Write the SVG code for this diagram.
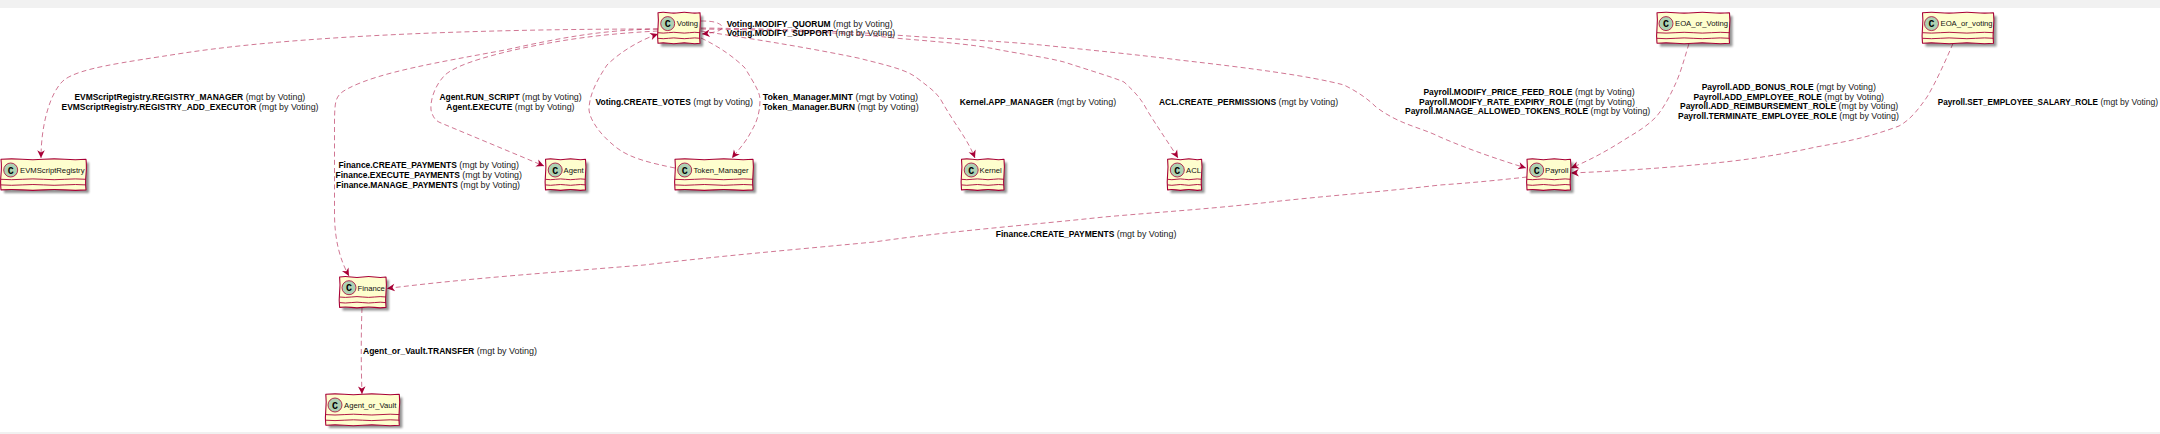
<svg xmlns="http://www.w3.org/2000/svg" width="2160" height="434" viewBox="0 0 2160 434">
<style>
.box{fill:#FEFECE;stroke:#A80036;stroke-width:1.1;stroke-linejoin:round}
.div{fill:none;stroke:#A80036;stroke-width:.9}
.shadow{fill:#000;opacity:.42}
.spot{fill:#ADD1B2;stroke:#A80036;stroke-width:.8}
.glyph{font:bold 10px "Liberation Mono",monospace;fill:#000;text-anchor:middle}
.name{font:7.7px "Liberation Sans",Arial,sans-serif;fill:#111}
.lab{font:8.9px "Liberation Sans",Arial,sans-serif;fill:#222}
.lab tspan{font-weight:bold;font-size:8.45px;fill:#000}
.edge{fill:none;stroke:#A80036;stroke-width:.9;stroke-opacity:.6;stroke-dasharray:5 3.2}
.tip{marker-end:url(#head)}
</style>
<defs>
<marker id="head" markerUnits="userSpaceOnUse" markerWidth="10" markerHeight="10" viewBox="-7 -4 8 8" refX="0" refY="0" orient="auto"><path d="M-6.2,-3 L0,0 L-6.2,3 L-4.4,0 Z" fill="#A80036"/></marker>
<filter id="soft" x="-20%" y="-30%" width="140%" height="160%"><feGaussianBlur stdDeviation="1.2"/></filter>
<g id="spot"><circle class="spot" r="7"/><text class="glyph" y="3.5">C</text></g>
</defs>
<rect x="0" y="0" width="2160" height="8" fill="#f1f1f1"/>
<rect x="0" y="432" width="2160" height="2" fill="#f1f1f1"/>
<g id="connectors">
<path class="edge tip" d="M658,29 C560,29 330,31 184,53 C120,63 80,68 64,80 C50,92 41,125 41,158"/>
<path class="edge tip" d="M658,29 C600,30 560,38 505,50 C440,62 380,72 349,88 C335,95 335,100 334.5,120 L334.5,213 C334.5,240 340,260 349,276"/>
<path class="edge tip" d="M658,31 C600,34 560,40 514,50 C480,58 455,66 445,75 C435,85 430,100 431,110 C433,118 436,121 441,123 L544,166"/>
<path class="edge tip" d="M675,168 C650,163 630,158 617,148 C600,135 590,120 589,110 C589,95 597,80 607,65 C620,52 640,40 658,34"/>
<path class="edge tip" d="M701,21 C712,21 718,22 722,26 C724,31 712,33 702,34"/>
<path class="edge tip" d="M701,38 C720,47 735,58 745,68 C755,85 760,92 760,100 C760,115 755,125 752,130 C746,142 740,148 732,158"/>
<path class="edge tip" d="M701,31 C740,37 800,46 858,58 C890,66 907,70 917,78 C930,88 936,92 941,100 C955,125 967,138 975,158"/>
<path class="edge tip" d="M701,29 C770,30 840,32 894,38 C940,42 970,44 995,49 C1020,54 1045,57 1064,62 C1095,72 1115,78 1124,82 C1135,92 1142,100 1147,110 C1158,128 1170,145 1178,158"/>
<path class="edge tip" d="M701,28 C780,29 840,31 894,35 C950,39 1000,41 1041,45 C1090,50 1140,55 1179,60 C1250,68 1310,76 1344,85 C1358,92 1368,99 1376,107 C1400,125 1420,127 1440,137 C1470,150 1500,160 1526,168"/>
<path class="edge tip" d="M1689,43.5 C1684,60 1680,75 1674,87 C1668,100 1662,110 1656,117 C1645,128 1635,133 1624,140 C1605,152 1590,160 1571,168"/>
<path class="edge tip" d="M1953,43.5 C1945,62 1936,82 1927,97 C1918,110 1910,120 1899,126 C1870,137 1845,142 1816,147 C1780,155 1745,160 1715,163 C1665,168 1620,171 1571,173"/>
<path class="edge tip" d="M1527,177 C1500,180 1470,183 1440,185 C1380,192 1325,196 1271,202 C1210,209 1160,212 1104,217 C1030,225 950,231 874,242 C790,250 720,256 644,265 C560,272 470,278 387,288.5"/>
<path class="edge tip" d="M362,308 C361,335 361,365 362,394"/>
</g>
<g id="Voting"><rect class="shadow" x="661" y="16" width="42" height="30.5" filter="url(#soft)"/><path class="box" d="M658,12.7q5.25,-.9 10.5,0t10.5,0t10.5,0t10.5,0q.8,7.6 0,15.3t0,15.3q-5.25,.9 -10.5,0t-10.5,0t-10.5,0t-10.5,0q-.8,-7.6 0,-15.3t0,-15.3z"/><path class="div" d="M658,32.7q5.25,.8 10.5,0t10.5,0t10.5,0t10.5,0M658,38.3q5.25,.8 10.5,0t10.5,0t10.5,0t10.5,0"/><use href="#spot" x="667.7" y="23.6"/><text class="name" x="676.7" y="26">Voting</text></g>
<g id="EVMScriptRegistry"><rect class="shadow" x="4" y="162.5" width="85" height="30.5" filter="url(#soft)"/><path class="box" d="M1,159.3q10.6,-.9 21.25,0t21.25,0t21.25,0t21.25,0q.8,7.6 0,15.3t0,15.3q-10.6,.9 -21.25,0t-21.25,0t-21.25,0t-21.25,0q-.8,-7.6 0,-15.3t0,-15.3z"/><path class="div" d="M1,179.3q10.6,.8 21.25,0t21.25,0t21.25,0t21.25,0M1,184.9q10.6,.8 21.25,0t21.25,0t21.25,0t21.25,0"/><use href="#spot" x="10.7" y="170"/><text class="name" x="20" y="173">EVMScriptRegistry</text></g>
<g id="Agent"><rect class="shadow" x="548.5" y="162.5" width="40" height="30.5" filter="url(#soft)"/><path class="box" d="M545.5,159.3q5,-.9 10,0t10,0t10,0t10,0q.8,7.6 0,15.3t0,15.3q-5,.9 -10,0t-10,0t-10,0t-10,0q-.8,-7.6 0,-15.3t0,-15.3z"/><path class="div" d="M545.5,179.3q5,.8 10,0t10,0t10,0t10,0M545.5,184.9q5,.8 10,0t10,0t10,0t10,0"/><use href="#spot" x="555.2" y="170"/><text class="name" x="563.5" y="173">Agent</text></g>
<g id="Token_Manager"><rect class="shadow" x="678" y="162.5" width="78" height="30.5" filter="url(#soft)"/><path class="box" d="M675,159.3q9.75,-.9 19.5,0t19.5,0t19.5,0t19.5,0q.8,7.6 0,15.3t0,15.3q-9.75,.9 -19.5,0t-19.5,0t-19.5,0t-19.5,0q-.8,-7.6 0,-15.3t0,-15.3z"/><path class="div" d="M675,179.3q9.75,.8 19.5,0t19.5,0t19.5,0t19.5,0M675,184.9q9.75,.8 19.5,0t19.5,0t19.5,0t19.5,0"/><use href="#spot" x="684.7" y="170"/><text class="name" x="693.5" y="173">Token_Manager</text></g>
<g id="Kernel"><rect class="shadow" x="964.5" y="162.5" width="42.5" height="30.5" filter="url(#soft)"/><path class="box" d="M961.5,159.3q5.3,-.9 10.6,0t10.6,0t10.6,0t10.7,0q.8,7.6 0,15.3t0,15.3q-5.3,.9 -10.6,0t-10.6,0t-10.6,0t-10.7,0q-.8,-7.6 0,-15.3t0,-15.3z"/><path class="div" d="M961.5,179.3q5.3,.8 10.6,0t10.6,0t10.6,0t10.7,0M961.5,184.9q5.3,.8 10.6,0t10.6,0t10.6,0t10.7,0"/><use href="#spot" x="971.2" y="170"/><text class="name" x="979.5" y="173">Kernel</text></g>
<g id="ACL"><rect class="shadow" x="1170.6" y="162.5" width="34" height="30.5" filter="url(#soft)"/><path class="box" d="M1167.6,159.3q4.25,-.9 8.5,0t8.5,0t8.5,0t8.5,0q.8,7.6 0,15.3t0,15.3q-4.25,.9 -8.5,0t-8.5,0t-8.5,0t-8.5,0q-.8,-7.6 0,-15.3t0,-15.3z"/><path class="div" d="M1167.6,179.3q4.25,.8 8.5,0t8.5,0t8.5,0t8.5,0M1167.6,184.9q4.25,.8 8.5,0t8.5,0t8.5,0t8.5,0"/><use href="#spot" x="1177.3" y="170"/><text class="name" x="1186" y="173">ACL</text></g>
<g id="Payroll"><rect class="shadow" x="1530" y="162.5" width="43.5" height="30.5" filter="url(#soft)"/><path class="box" d="M1527,159.3q5.4,-.9 10.9,0t10.9,0t10.9,0t10.8,0q.8,7.6 0,15.3t0,15.3q-5.4,.9 -10.8,0t-10.9,0t-10.9,0t-10.9,0q-.8,-7.6 0,-15.3t0,-15.3z"/><path class="div" d="M1527,179.3q5.4,.8 10.9,0t10.9,0t10.9,0t10.8,0M1527,184.9q5.4,.8 10.9,0t10.9,0t10.9,0t10.8,0"/><use href="#spot" x="1536.7" y="170"/><text class="name" x="1545" y="173">Payroll</text></g>
<g id="EOA_or_Voting"><rect class="shadow" x="1660" y="16" width="72.5" height="30.5" filter="url(#soft)"/><path class="box" d="M1657,12.7q9.06,-.9 18.1,0t18.1,0t18.1,0t18.2,0q.8,7.6 0,15.3t0,15.3q-9.06,.9 -18.2,0t-18.1,0t-18.1,0t-18.1,0q-.8,-7.6 0,-15.3t0,-15.3z"/><path class="div" d="M1657,32.7q9.06,.8 18.1,0t18.1,0t18.1,0t18.2,0M1657,38.3q9.06,.8 18.1,0t18.1,0t18.1,0t18.2,0"/><use href="#spot" x="1666" y="23.6"/><text class="name" x="1675" y="26">EOA_or_Voting</text></g>
<g id="EOA_or_voting"><rect class="shadow" x="1925.5" y="16" width="71" height="30.5" filter="url(#soft)"/><path class="box" d="M1922.5,12.7q8.9,-.9 17.75,0t17.75,0t17.75,0t17.75,0q.8,7.6 0,15.3t0,15.3q-8.9,.9 -17.75,0t-17.75,0t-17.75,0t-17.75,0q-.8,-7.6 0,-15.3t0,-15.3z"/><path class="div" d="M1922.5,32.7q8.9,.8 17.75,0t17.75,0t17.75,0t17.75,0M1922.5,38.3q8.9,.8 17.75,0t17.75,0t17.75,0t17.75,0"/><use href="#spot" x="1931.5" y="23.6"/><text class="name" x="1940.5" y="26">EOA_or_voting</text></g>
<g id="Finance"><rect class="shadow" x="342.6" y="280" width="46.4" height="30.5" filter="url(#soft)"/><path class="box" d="M339.6,277q5.8,-.9 11.6,0t11.6,0t11.6,0t11.6,0q.8,7.6 0,15.2t0,15.2q-5.8,.9 -11.6,0t-11.6,0t-11.6,0t-11.6,0q-.8,-7.6 0,-15.2t0,-15.2z"/><path class="div" d="M339.6,297q5.8,.8 11.6,0t11.6,0t11.6,0t11.6,0M339.6,302.6q5.8,.8 11.6,0t11.6,0t11.6,0t11.6,0"/><use href="#spot" x="349" y="287.7"/><text class="name" x="357.5" y="290.5">Finance</text></g>
<g id="Agent_or_Vault"><rect class="shadow" x="328.8" y="397.5" width="73.5" height="30.5" filter="url(#soft)"/><path class="box" d="M325.8,394.3q9.2,-.9 18.4,0t18.4,0t18.4,0t18.3,0q.8,7.6 0,15.5t0,15.5q-9.2,.9 -18.3,0t-18.4,0t-18.4,0t-18.4,0q-.8,-7.6 0,-15.5t0,-15.5z"/><path class="div" d="M325.8,414.6q9.2,.8 18.4,0t18.4,0t18.4,0t18.3,0M325.8,420.2q9.2,.8 18.4,0t18.4,0t18.4,0t18.3,0"/><use href="#spot" x="335" y="405"/><text class="name" x="344" y="408">Agent_or_Vault</text></g>
<g id="labels">
<text class="lab" x="74.4" y="100"><tspan>EVMScriptRegistry.REGISTRY_MANAGER</tspan> (mgt by Voting)</text>
<text class="lab" x="61.5" y="110"><tspan>EVMScriptRegistry.REGISTRY_ADD_EXECUTOR</tspan> (mgt by Voting)</text>
<text class="lab" x="439.4" y="100"><tspan>Agent.RUN_SCRIPT</tspan> (mgt by Voting)</text>
<text class="lab" x="446.3" y="110"><tspan>Agent.EXECUTE</tspan> (mgt by Voting)</text>
<text class="lab" x="338.4" y="168"><tspan>Finance.CREATE_PAYMENTS</tspan> (mgt by Voting)</text>
<text class="lab" x="335.6" y="178"><tspan>Finance.EXECUTE_PAYMENTS</tspan> (mgt by Voting)</text>
<text class="lab" x="336" y="188"><tspan>Finance.MANAGE_PAYMENTS</tspan> (mgt by Voting)</text>
<text class="lab" x="595.5" y="105"><tspan>Voting.CREATE_VOTES</tspan> (mgt by Voting)</text>
<text class="lab" x="726.7" y="27"><tspan>Voting.MODIFY_QUORUM</tspan> (mgt by Voting)</text>
<text class="lab" x="726.7" y="36"><tspan>Voting.MODIFY_SUPPORT</tspan> (mgt by Voting)</text>
<text class="lab" x="762.7" y="100" textLength="155.5" lengthAdjust="spacingAndGlyphs"><tspan>Token_Manager.MINT</tspan> (mgt by Voting)</text>
<text class="lab" x="762.7" y="110" textLength="156" lengthAdjust="spacingAndGlyphs"><tspan>Token_Manager.BURN</tspan> (mgt by Voting)</text>
<text class="lab" x="959.7" y="105"><tspan>Kernel.APP_MANAGER</tspan> (mgt by Voting)</text>
<text class="lab" x="1159" y="105"><tspan>ACL.CREATE_PERMISSIONS</tspan> (mgt by Voting)</text>
<text class="lab" x="1423.4" y="95"><tspan>Payroll.MODIFY_PRICE_FEED_ROLE</tspan> (mgt by Voting)</text>
<text class="lab" x="1419" y="105"><tspan>Payroll.MODIFY_RATE_EXPIRY_ROLE</tspan> (mgt by Voting)</text>
<text class="lab" x="1405" y="114"><tspan>Payroll.MANAGE_ALLOWED_TOKENS_ROLE</tspan> (mgt by Voting)</text>
<text class="lab" x="1701.7" y="90"><tspan>Payroll.ADD_BONUS_ROLE</tspan> (mgt by Voting)</text>
<text class="lab" x="1693.4" y="100"><tspan>Payroll.ADD_EMPLOYEE_ROLE</tspan> (mgt by Voting)</text>
<text class="lab" x="1680" y="109"><tspan>Payroll.ADD_REIMBURSEMENT_ROLE</tspan> (mgt by Voting)</text>
<text class="lab" x="1678" y="119"><tspan>Payroll.TERMINATE_EMPLOYEE_ROLE</tspan> (mgt by Voting)</text>
<text class="lab" x="1937.7" y="105" textLength="220.5" lengthAdjust="spacingAndGlyphs"><tspan>Payroll.SET_EMPLOYEE_SALARY_ROLE</tspan> (mgt by Voting)</text>
<text class="lab" x="995.8" y="237.3"><tspan>Finance.CREATE_PAYMENTS</tspan> (mgt by Voting)</text>
<text class="lab" x="363" y="354.3" textLength="174" lengthAdjust="spacingAndGlyphs"><tspan>Agent_or_Vault.TRANSFER</tspan> (mgt by Voting)</text>
</g>
</svg>
